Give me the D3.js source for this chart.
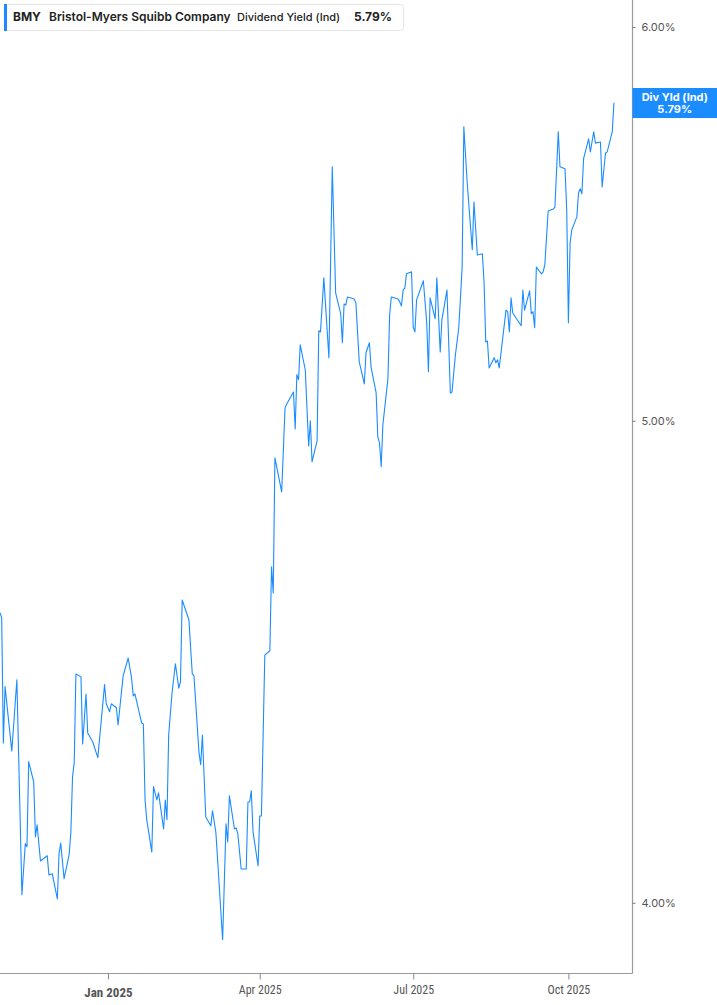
<!DOCTYPE html>
<html><head><meta charset="utf-8">
<script src="https://cdn.jsdelivr.net/npm/d3@7"></script>
<style>
html,body{margin:0;padding:0;background:#fff;}
svg{display:block;}
</style></head>
<body>
<svg id="chart" width="717" height="1005"></svg>
<script>
const ticker = "BMY";
const company = "Bristol-Myers Squibb Company";
const metric = "Dividend Yield (Ind)";
const badgeTitle = "Div Yld (Ind)";
const lastLabel = "5.79%";

const dates = [
"2024-10-29","2024-10-30","2024-10-31","2024-11-01","2024-11-05","2024-11-08","2024-11-11","2024-11-13","2024-11-14","2024-11-15",
"2024-11-18","2024-11-19","2024-11-20","2024-11-22","2024-11-26","2024-11-27","2024-11-29","2024-12-02","2024-12-03","2024-12-04",
"2024-12-06","2024-12-09","2024-12-10","2024-12-11","2024-12-12","2024-12-13","2024-12-16","2024-12-17","2024-12-19","2024-12-20",
"2024-12-23","2024-12-26","2024-12-30","2024-12-31","2025-01-02","2025-01-03","2025-01-06","2025-01-07","2025-01-10","2025-01-13",
"2025-01-15","2025-01-16","2025-01-17","2025-01-21","2025-01-22","2025-01-23","2025-01-24","2025-01-27","2025-01-28","2025-01-30",
"2025-01-31","2025-02-03","2025-02-04","2025-02-05","2025-02-06","2025-02-08","2025-02-10","2025-02-12","2025-02-13","2025-02-14",
"2025-02-18","2025-02-20","2025-02-21","2025-02-24","2025-02-25","2025-02-26","2025-02-28","2025-03-03","2025-03-04","2025-03-06",
"2025-03-10","2025-03-12","2025-03-13","2025-03-14","2025-03-17","2025-03-18","2025-03-19","2025-03-21","2025-03-24","2025-03-25",
"2025-03-26","2025-03-27","2025-03-28","2025-03-31","2025-04-01","2025-04-02","2025-04-04","2025-04-07","2025-04-08","2025-04-09",
"2025-04-10","2025-04-14","2025-04-16","2025-04-17","2025-04-21","2025-04-22","2025-04-23","2025-04-24","2025-04-25","2025-04-28",
"2025-04-30","2025-05-01","2025-05-02","2025-05-05","2025-05-06","2025-05-07","2025-05-09","2025-05-12","2025-05-14","2025-05-16",
"2025-05-19","2025-05-20","2025-05-21","2025-05-22","2025-05-23","2025-05-27","2025-05-28","2025-05-30","2025-06-02","2025-06-03",
"2025-06-05","2025-06-06","2025-06-09","2025-06-10","2025-06-11","2025-06-12","2025-06-13","2025-06-16","2025-06-17","2025-06-18",
"2025-06-22","2025-06-23","2025-06-24","2025-06-25","2025-06-26","2025-06-27","2025-06-30","2025-07-01","2025-07-02","2025-07-03",
"2025-07-07","2025-07-09","2025-07-10","2025-07-11","2025-07-14","2025-07-15","2025-07-17","2025-07-18","2025-07-21","2025-07-23",
"2025-07-24","2025-07-26","2025-07-28","2025-07-30","2025-07-31","2025-08-02","2025-08-05","2025-08-06","2025-08-08","2025-08-11",
"2025-08-12","2025-08-13","2025-08-14","2025-08-15","2025-08-18","2025-08-19","2025-08-20","2025-08-21","2025-08-25","2025-08-26",
"2025-08-27","2025-08-28","2025-08-29","2025-09-03","2025-09-04","2025-09-05","2025-09-08","2025-09-09","2025-09-10","2025-09-11",
"2025-09-12","2025-09-15","2025-09-16","2025-09-17","2025-09-19","2025-09-22","2025-09-23","2025-09-25","2025-09-26","2025-09-29",
"2025-09-30","2025-10-01","2025-10-02","2025-10-03","2025-10-06","2025-10-07","2025-10-08","2025-10-09","2025-10-10","2025-10-13",
"2025-10-14","2025-10-16","2025-10-17","2025-10-20","2025-10-21","2025-10-23","2025-10-24","2025-10-27","2025-10-28"
];

const yieldValues = [
4.575,4.564,4.307,4.421,4.291,4.435,4.015,4.111,4.105,4.270,
4.230,4.124,4.147,4.078,4.088,4.052,4.054,4.007,4.092,4.112,
4.045,4.090,4.132,4.240,4.268,4.447,4.441,4.305,4.406,4.327,
4.309,4.278,4.425,4.386,4.370,4.386,4.378,4.343,4.443,4.480,
4.439,4.402,4.406,4.347,4.345,4.195,4.157,4.095,4.221,4.195,
4.209,4.139,4.195,4.157,4.323,4.408,4.468,4.418,4.431,4.602,
4.560,4.447,4.443,4.287,4.264,4.323,4.162,4.145,4.174,4.132,
3.932,4.149,4.114,4.203,4.139,4.141,4.130,4.063,4.063,4.191,
4.191,4.213,4.134,4.069,4.164,4.164,4.486,4.495,4.673,4.617,
4.915,4.838,5.030,5.039,5.067,4.981,5.108,5.096,5.179,5.119,
4.942,5.000,4.906,4.954,5.213,5.210,5.342,5.148,5.624,5.305,
5.254,5.184,5.278,5.275,5.295,5.290,5.280,5.138,5.086,5.160,
5.184,5.126,5.065,4.963,4.949,4.895,4.991,5.098,5.251,5.295,
5.290,5.283,5.273,5.312,5.317,5.352,5.357,5.222,5.210,5.288,
5.335,5.232,5.115,5.293,5.242,5.342,5.162,5.239,5.312,5.065,
5.067,5.155,5.220,5.369,5.729,5.582,5.412,5.533,5.399,5.402,
5.330,5.186,5.188,5.124,5.148,5.136,5.143,5.124,5.263,5.259,
5.210,5.293,5.256,5.225,5.312,5.263,5.310,5.254,5.259,5.220,
5.369,5.352,5.357,5.374,5.510,5.515,5.520,5.716,5.624,5.619,
5.513,5.232,5.429,5.462,5.495,5.556,5.567,5.554,5.645,5.697,
5.663,5.716,5.686,5.689,5.572,5.660,5.663,5.716,5.793
];

const yTickValues = [4, 5, 6];
const xTickDates = ["2025-01-01","2025-04-01","2025-07-01","2025-10-01"];
const xTickLabels = ["Jan 2025","Apr 2025","Jul 2025","Oct 2025"];
const xDomain = ["2024-10-29","2025-11-08"];
const yDomain = [3.872, 6.0755];

const parse = d3.utcParse("%Y-%m-%d");
const data = dates.map((d, i) => ({date: parse(d), value: yieldValues[i]}));

const W = 717, H = 1005;
const plotRight = 632.5, plotBottom = 973.5;
const blue = "#1a8cff";

const svg = d3.select("#chart");

const x = d3.scaleUtc().domain(xDomain.map(parse)).range([0, plotRight]);
const y = d3.scaleLog().domain(yDomain).range([plotBottom - 0.5, 0]);

svg.append("defs").append("clipPath").attr("id","clip")
  .append("rect").attr("x",0).attr("y",0).attr("width",plotRight).attr("height",plotBottom);

// line
svg.append("path")
  .datum(data)
  .attr("clip-path","url(#clip)")
  .attr("fill","none")
  .attr("stroke", blue)
  .attr("stroke-width", 1.1)
  .attr("stroke-linejoin","round")
  .attr("d", d3.line().x(d => x(d.date)).y(d => y(d.value)));

// right axis
const yAxis = d3.axisRight(y).tickValues(yTickValues).tickSize(3).tickPadding(6)
  .tickFormat(d => d3.format(".2f")(d) + "%");
const gy = svg.append("g").attr("transform", `translate(${plotRight},0)`).call(yAxis);
gy.select(".domain").attr("d", `M0,0V${plotBottom}`).attr("stroke","#9a9a9a").attr("stroke-width",1.2);
gy.selectAll(".tick line").attr("stroke","#777");
gy.selectAll(".tick text").attr("fill","#555").attr("font-family","Inter, Roboto, sans-serif").attr("font-size",11).attr("x", 9);

// bottom axis
const xAxis = d3.axisBottom(x).tickValues(xTickDates.map(parse)).tickSize(6).tickPadding(6)
  .tickFormat((d, i) => xTickLabels[i]);
const gx = svg.append("g").attr("transform", `translate(0,${plotBottom})`).call(xAxis);
gx.select(".domain").attr("d", `M0,0H${plotRight}`).attr("stroke","#9a9a9a").attr("stroke-width",1.2);
gx.selectAll(".tick line").attr("stroke","#888");
gx.selectAll(".tick text")
  .attr("fill","#555")
  .attr("font-family","'Liberation Sans Narrow', 'Roboto Condensed', Roboto, sans-serif")
  .attr("font-size", (d, i) => i === 0 ? 13 : 12)
  .attr("font-weight", (d, i) => i === 0 ? 700 : 400)
  .attr("dy", (d, i) => i === 0 ? "0.9em" : "0.71em");

// last value badge
const lastVal = data[data.length - 1].value;
const badge = svg.append("g");
badge.append("rect").attr("x", plotRight).attr("y", 88).attr("width", W - plotRight).attr("height", 30).attr("fill", blue);
badge.append("text").attr("x", (plotRight + W) / 2).attr("y", 101)
  .attr("text-anchor","middle").attr("fill","#fff").attr("font-family","Inter, Roboto, sans-serif")
  .attr("font-size",11).attr("font-weight",700).text(badgeTitle);
badge.append("text").attr("x", (plotRight + W) / 2).attr("y", 113)
  .attr("text-anchor","middle").attr("fill","#fff").attr("font-family","Inter, Roboto, sans-serif")
  .attr("font-size",11).attr("font-weight",700).text(d3.format(".2f")(lastVal) + "%");

// header legend
const hdr = svg.append("g");
hdr.append("rect").attr("x",4.5).attr("y",4.5).attr("width",399).attr("height",26).attr("rx",3)
  .attr("fill","#fff").attr("stroke","#e6e6e6");
hdr.append("rect").attr("x",4).attr("y",4).attr("width",3).attr("height",27).attr("fill",blue);
const ht = hdr.append("text").attr("y",21).attr("font-family","Inter, Roboto, sans-serif").attr("font-size",12).attr("fill","#222");
ht.append("tspan").attr("x",13).attr("font-weight",700).text(ticker);
ht.append("tspan").attr("x",49).attr("font-weight",600).text(company);
ht.append("tspan").attr("x",237).attr("font-weight",500).attr("font-size",11).text(metric);
ht.append("tspan").attr("x",354).attr("font-weight",700).text(lastLabel);
</script>
</body></html>
